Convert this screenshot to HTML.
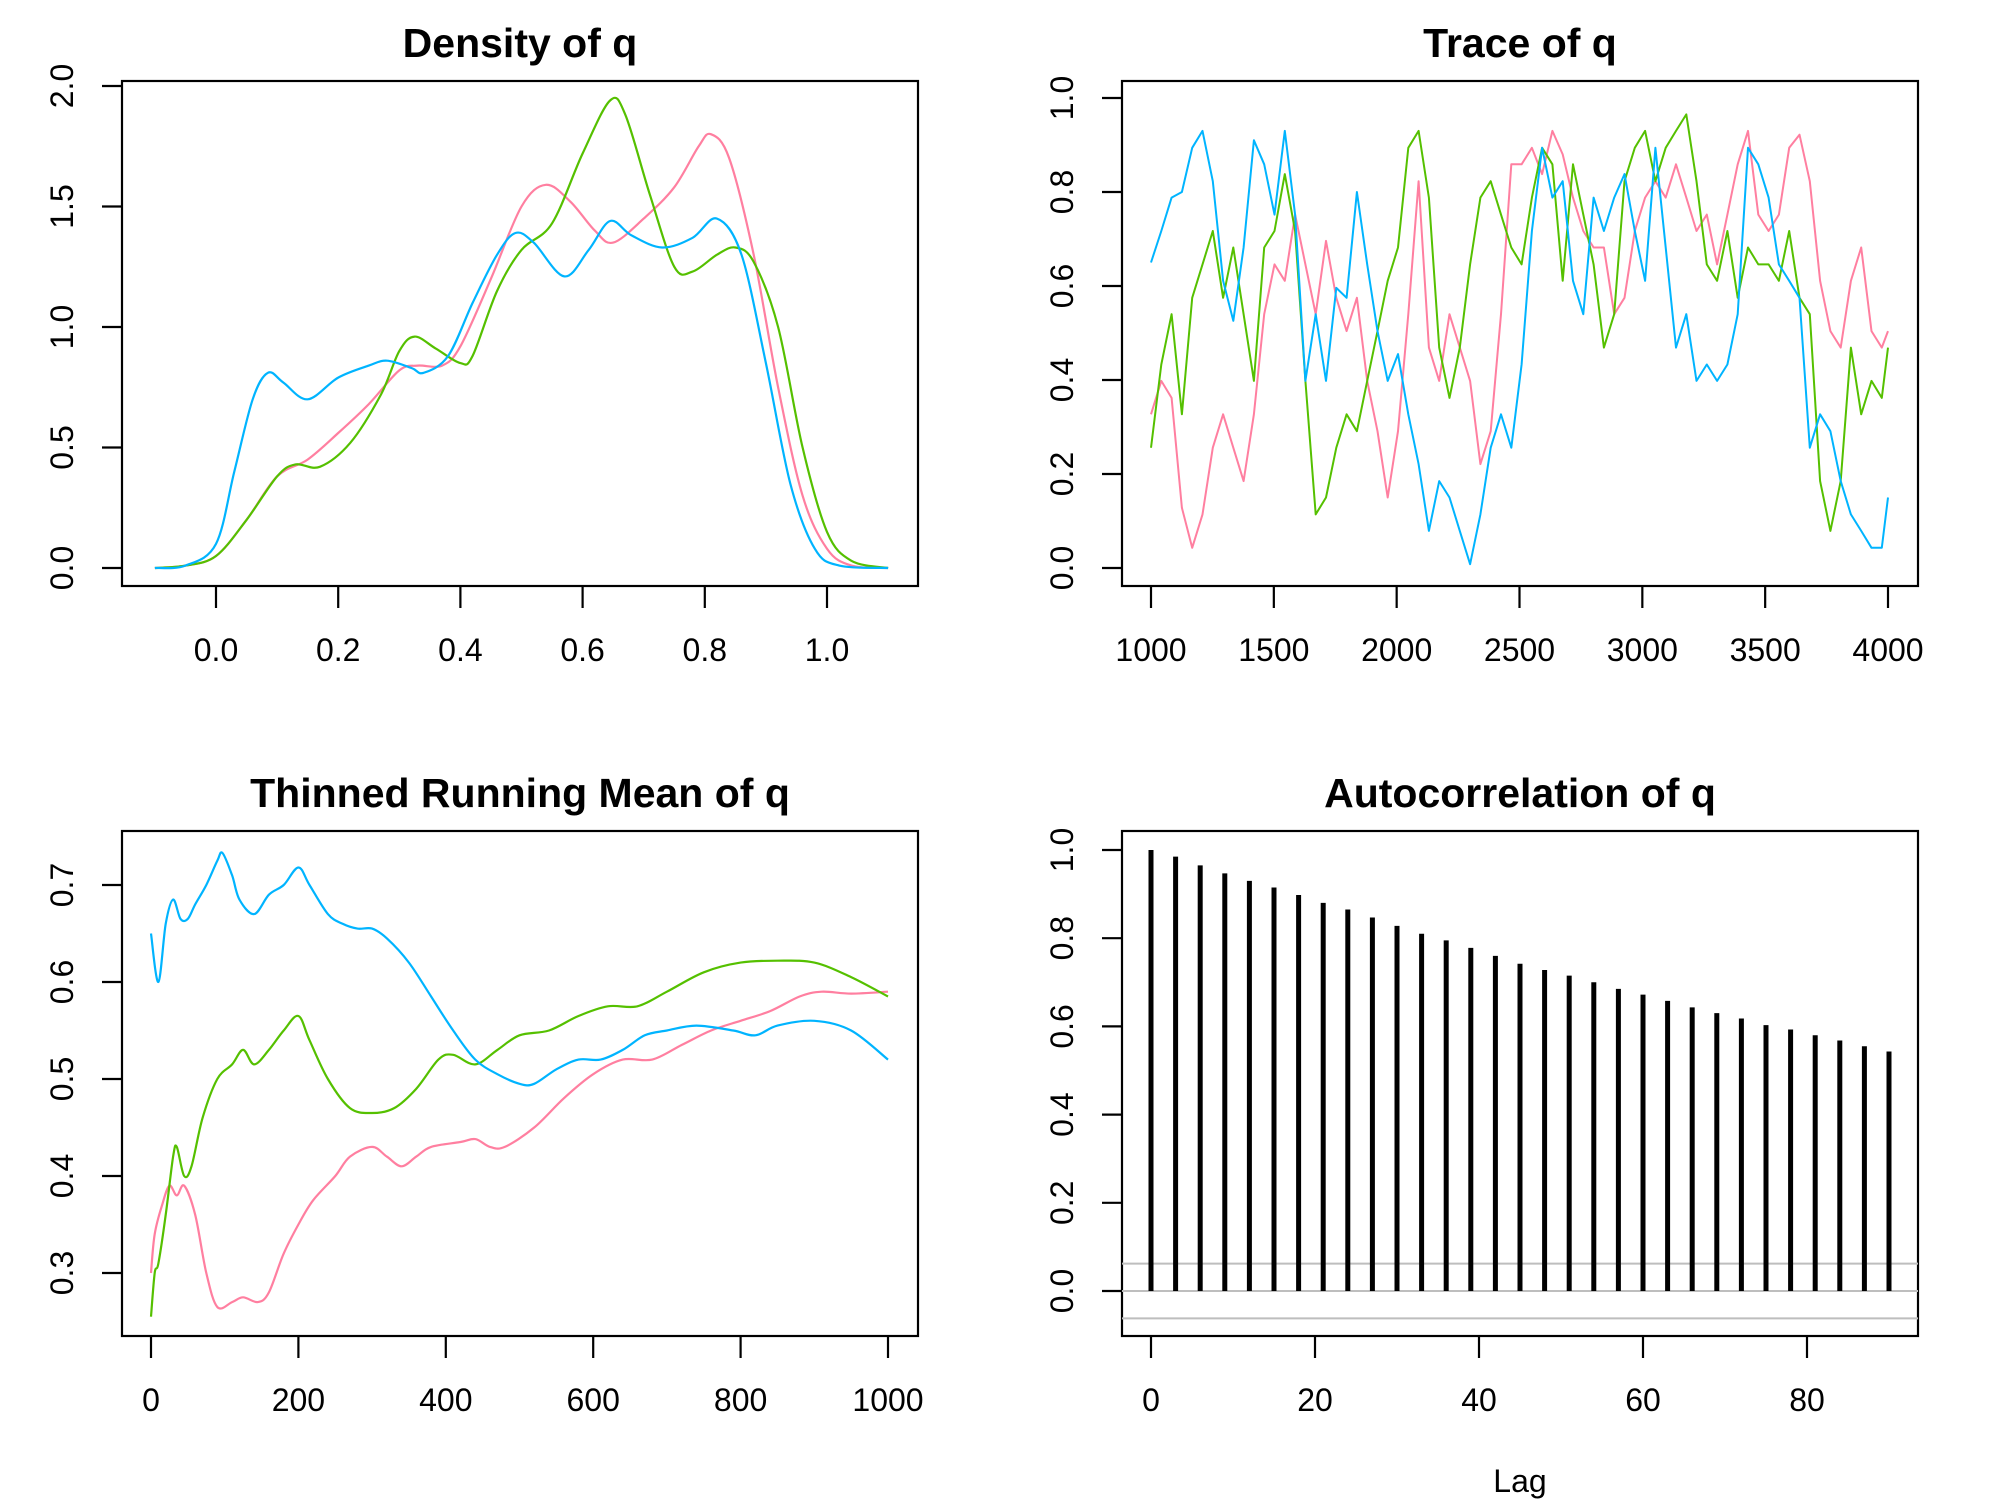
<!DOCTYPE html>
<html><head><meta charset="utf-8">
<style>
html,body{margin:0;padding:0;background:#fff;}
svg{display:block;font-family:"Liberation Sans",Arial,sans-serif;}
.tick{font-size:32px;fill:#000;}
.title{font-size:41px;font-weight:bold;fill:#000;}
</style></head>
<body>
<svg id="fig" width="2000" height="1500" viewBox="0 0 2000 1500" xmlns="http://www.w3.org/2000/svg"></svg>
<script>
// ---------- Density of q ----------
const densX_blue=[-0.1,-0.05,0.0,0.03,0.06,0.085,0.11,0.15,0.2,0.25,0.28,0.32,0.34,0.38,0.42,0.46,0.49,0.52,0.57,0.61,0.645,0.68,0.73,0.78,0.82,0.86,0.9,0.94,0.98,1.02,1.1];
const densY_blue=[0,0.01,0.1,0.4,0.7,0.81,0.77,0.7,0.79,0.84,0.86,0.83,0.81,0.88,1.1,1.3,1.39,1.35,1.21,1.32,1.44,1.38,1.33,1.37,1.45,1.3,0.85,0.35,0.08,0.01,0];
const densX_pink=[-0.1,-0.05,0.0,0.05,0.1,0.15,0.2,0.25,0.3,0.33,0.37,0.4,0.45,0.5,0.54,0.58,0.62,0.65,0.7,0.75,0.79,0.81,0.84,0.88,0.92,0.96,1.0,1.04,1.1];
const densY_pink=[0,0.01,0.05,0.2,0.38,0.45,0.56,0.68,0.82,0.84,0.84,0.92,1.2,1.5,1.59,1.52,1.4,1.35,1.45,1.58,1.75,1.8,1.7,1.3,0.75,0.3,0.08,0.01,0];
const densX_green=[-0.1,-0.05,0.0,0.05,0.1,0.13,0.17,0.22,0.27,0.3,0.325,0.36,0.4,0.42,0.46,0.5,0.55,0.6,0.645,0.67,0.71,0.75,0.78,0.82,0.85,0.88,0.92,0.96,1.0,1.04,1.1];
const densY_green=[0,0.01,0.05,0.2,0.38,0.43,0.42,0.52,0.72,0.9,0.96,0.91,0.85,0.88,1.15,1.32,1.43,1.72,1.94,1.88,1.55,1.25,1.23,1.3,1.33,1.27,1.0,0.5,0.15,0.03,0];
const densXTicks=["0.0","0.2","0.4","0.6","0.8","1.0"];
const densYTicks=["0.0","0.5","1.0","1.5","2.0"];

// ---------- Trace of q ----------
const traceBlue=[0.65,0.717,0.788,0.80,0.894,0.93,0.823,0.611,0.526,0.682,0.91,0.859,0.752,0.93,0.752,0.398,0.54,0.398,0.596,0.575,0.80,0.646,0.504,0.398,0.455,0.327,0.221,0.079,0.185,0.15,0.079,0.008,0.114,0.256,0.327,0.256,0.433,0.717,0.894,0.788,0.823,0.611,0.54,0.788,0.717,0.788,0.838,0.717,0.611,0.894,0.682,0.469,0.54,0.398,0.433,0.398,0.433,0.54,0.894,0.859,0.788,0.646,0.611,0.575,0.256,0.327,0.291,0.185,0.114,0.079,0.043,0.043,0.15];
const tracePink=[0.327,0.398,0.362,0.128,0.043,0.114,0.256,0.327,0.256,0.185,0.327,0.54,0.646,0.611,0.752,0.646,0.54,0.696,0.575,0.504,0.575,0.398,0.291,0.15,0.291,0.54,0.823,0.469,0.398,0.54,0.469,0.398,0.221,0.291,0.54,0.859,0.859,0.894,0.838,0.93,0.88,0.788,0.717,0.682,0.682,0.54,0.575,0.717,0.788,0.823,0.788,0.859,0.788,0.717,0.752,0.646,0.752,0.859,0.93,0.752,0.717,0.752,0.894,0.922,0.823,0.611,0.504,0.469,0.611,0.682,0.504,0.469,0.504];
const traceGreen=[0.256,0.433,0.54,0.327,0.575,0.646,0.717,0.575,0.682,0.54,0.398,0.682,0.717,0.838,0.717,0.398,0.114,0.15,0.256,0.327,0.291,0.398,0.504,0.611,0.682,0.894,0.93,0.788,0.469,0.362,0.469,0.646,0.788,0.823,0.752,0.682,0.646,0.788,0.894,0.859,0.611,0.859,0.752,0.646,0.469,0.54,0.823,0.894,0.93,0.823,0.894,0.93,0.965,0.823,0.646,0.611,0.717,0.575,0.682,0.646,0.646,0.611,0.717,0.575,0.54,0.185,0.079,0.185,0.469,0.327,0.398,0.362,0.469];
const traceXTicks=[1000,1500,2000,2500,3000,3500,4000];
const traceYTicks=["0.0","0.2","0.4","0.6","0.8","1.0"];

// ---------- Thinned Running Mean ----------
const rmX_blue=[0,10,20,30,40,50,60,75,90,97,110,120,140,160,180,200,215,240,260,280,300,320,350,380,410,440,470,500,520,550,580,610,640,670,700,740,790,820,850,900,950,1000];
const rmY_blue=[0.65,0.60,0.66,0.685,0.665,0.665,0.68,0.70,0.725,0.733,0.71,0.685,0.67,0.69,0.70,0.718,0.70,0.67,0.66,0.655,0.655,0.645,0.62,0.585,0.55,0.52,0.505,0.495,0.495,0.51,0.52,0.52,0.53,0.545,0.55,0.555,0.55,0.545,0.555,0.56,0.55,0.52];
const rmX_pink=[0,5,15,25,35,45,60,75,90,110,125,145,160,180,200,220,250,270,300,320,340,360,380,420,440,460,480,520,560,600,640,680,720,760,800,840,880,910,950,1000];
const rmY_pink=[0.30,0.34,0.37,0.39,0.38,0.39,0.36,0.30,0.265,0.27,0.275,0.27,0.28,0.32,0.35,0.375,0.40,0.42,0.43,0.42,0.41,0.42,0.43,0.435,0.438,0.43,0.43,0.45,0.48,0.505,0.52,0.52,0.535,0.55,0.56,0.57,0.585,0.59,0.588,0.59];
const rmX_green=[0,5,10,20,30,35,45,55,70,90,110,125,140,160,180,200,215,240,270,300,330,360,390,410,440,470,500,540,580,620,660,700,750,800,850,900,950,1000];
const rmY_green=[0.255,0.30,0.31,0.36,0.42,0.43,0.40,0.41,0.46,0.50,0.515,0.53,0.515,0.53,0.55,0.565,0.54,0.50,0.47,0.465,0.47,0.49,0.52,0.525,0.515,0.53,0.545,0.55,0.565,0.575,0.575,0.59,0.61,0.62,0.622,0.62,0.605,0.585];
const rmXTicks=[0,200,400,600,800,1000];
const rmYTicks=["0.3","0.4","0.5","0.6","0.7"];

// ---------- Autocorrelation ----------
const acfLags=[0,3,6,9,12,15,18,21,24,27,30,33,36,39,42,45,48,51,54,57,60,63,66,69,72,75,78,81,84,87,90];
const acfVals=[1.0,0.985,0.965,0.947,0.93,0.915,0.898,0.88,0.865,0.847,0.828,0.81,0.795,0.778,0.76,0.742,0.728,0.715,0.7,0.685,0.672,0.658,0.643,0.63,0.618,0.603,0.593,0.58,0.568,0.555,0.543];
const acfCI=[0.062,-0.062];
const acfXTicks=[0,20,40,60,80];
const acfYTicks=["0.0","0.2","0.4","0.6","0.8","1.0"];

const NS="http://www.w3.org/2000/svg";
const svg=document.getElementById('fig');
const COL_PINK="#FF7FA0", COL_BLUE="#00B4FF", COL_GREEN="#55C000";
function mk(tag,attrs,parent){const e=document.createElementNS(NS,tag);for(const k in attrs)e.setAttribute(k,attrs[k]);(parent||svg).appendChild(e);return e;}
function lin(d0,d1,p0,p1){return v=>p0+(v-d0)*(p1-p0)/(d1-d0);}
function smoothPath(pts){let d="M"+pts[0][0].toFixed(1)+","+pts[0][1].toFixed(1);
  for(let i=0;i<pts.length-1;i++){const p0=pts[i-1]||pts[i],p1=pts[i],p2=pts[i+1],p3=pts[i+2]||p2;
    const c1x=p1[0]+(p2[0]-p0[0])/6,c1y=p1[1]+(p2[1]-p0[1])/6,c2x=p2[0]-(p3[0]-p1[0])/6,c2y=p2[1]-(p3[1]-p1[1])/6;
    d+=` C${c1x.toFixed(1)},${c1y.toFixed(1)} ${c2x.toFixed(1)},${c2y.toFixed(1)} ${p2[0].toFixed(1)},${p2[1].toFixed(1)}`;}
  return d;}
function linePath(pts){return pts.map((p,i)=>(i?"L":"M")+p[0].toFixed(1)+","+p[1].toFixed(1)).join(" ");}

function panel(name,box,title,sx,sy,xt,yt){
  const g=mk('g',{});
  
  
  const t=mk('text',{x:(box.x0+box.x1)/2,y:box.y0-24,'text-anchor':'middle',class:'title'},g);
  t.textContent=title;
  
  
  const fr=mk('rect',{x:box.x0,y:box.y0,width:box.x1-box.x0,height:box.y1-box.y0,fill:'none',stroke:'#000','stroke-width':2.2},g);
  
  
  const xa=mk('g',{},g);
  
  
  xt.forEach(v=>{const x=sx(Number(v));
    mk('line',{x1:x,x2:x,y1:box.y1,y2:box.y1+22,stroke:'#000','stroke-width':2.2},xa);
    const l=mk('text',{x:x,y:box.y1+75,'text-anchor':'middle',class:'tick'},xa);l.textContent=v;
    
    });
  const ya=mk('g',{},g);
  
  
  yt.forEach(v=>{const y=sy(Number(v));
    mk('line',{x1:box.x0-20,x2:box.x0,y1:y,y2:y,stroke:'#000','stroke-width':2.2},ya);
    const l=mk('text',{x:0,y:0,'text-anchor':'middle',class:'tick',transform:`translate(${box.x0-49},${y}) rotate(-90)`},ya);l.textContent=v;
    
    });
  return g;}
function series(g,name,d,color,w){const p=mk('path',{d:d,fill:'none',stroke:color,'stroke-width':w||2.2,'stroke-linejoin':'round'},g);
  
  return p;}

// Density
{const box={x0:122,x1:918,y0:81,y1:586};
 const sx=lin(0,1,216,827),sy=lin(0,2,568,86);
 const g=panel('density-panel',box,'Density of q',sx,sy,densXTicks,densYTicks);
 const zip=(X,Y)=>X.map((x,i)=>[sx(x),sy(Y[i])]);
 series(g,'density-chain-pink',smoothPath(zip(densX_pink,densY_pink)),COL_PINK);
 series(g,'density-chain-green',smoothPath(zip(densX_green,densY_green)),COL_GREEN);
 series(g,'density-chain-blue',smoothPath(zip(densX_blue,densY_blue)),COL_BLUE);}

// Trace
{const box={x0:1122,x1:1918,y0:81,y1:586};
 const sx=lin(1000,4000,1151,1888),sy=lin(0,1,568,98);
 const g=panel('trace-panel',box,'Trace of q',sx,sy,traceXTicks.map(String),traceYTicks);
 const it=i=>i<72?1000+i*3000*20/1432:4000;
 const P=arr=>arr.map((v,i)=>[sx(it(i)),sy(v)]);
 series(g,'trace-chain-pink',linePath(P(tracePink)),COL_PINK,2);
 series(g,'trace-chain-green',linePath(P(traceGreen)),COL_GREEN,2);
 series(g,'trace-chain-blue',linePath(P(traceBlue)),COL_BLUE,2);}

// Running mean
{const box={x0:122,x1:918,y0:831,y1:1336};
 const sx=lin(0,1000,151,888),sy=lin(0.3,0.7,1273,885);
 const g=panel('running-mean-panel',box,'Thinned Running Mean of q',sx,sy,rmXTicks.map(String),rmYTicks);
 const zip=(X,Y)=>X.map((x,i)=>[sx(x),sy(Y[i])]);
 series(g,'running-mean-chain-pink',smoothPath(zip(rmX_pink,rmY_pink)),COL_PINK);
 series(g,'running-mean-chain-green',smoothPath(zip(rmX_green,rmY_green)),COL_GREEN);
 series(g,'running-mean-chain-blue',smoothPath(zip(rmX_blue,rmY_blue)),COL_BLUE);}

// ACF
{const box={x0:1122,x1:1918,y0:831,y1:1336};
 const sx=lin(0,80,1151,1807),sy=lin(0,1,1291,850);
 const g=panel('acf-panel',box,'Autocorrelation of q',sx,sy,acfXTicks.map(String),acfYTicks);
 [0].concat(acfCI).forEach(v=>{const l=mk('line',{x1:box.x0,x2:box.x1,y1:sy(v),y2:sy(v),stroke:'#BEBEBE','stroke-width':2},g);
   
   });
 acfLags.forEach((lag,i)=>{const b=mk('line',{x1:sx(lag),x2:sx(lag),y1:sy(0),y2:sy(acfVals[i]),stroke:'#000','stroke-width':5},g);
   
   });
 const lab=mk('text',{x:1520,y:1492,'text-anchor':'middle',class:'tick'},g);lab.textContent='Lag';
 
 }
</script>
</body></html>
